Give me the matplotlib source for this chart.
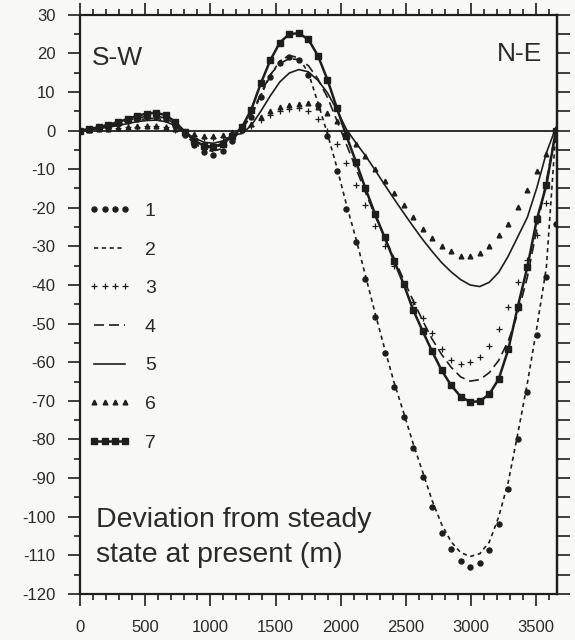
import numpy as np
import matplotlib
matplotlib.use("Agg")
import matplotlib.pyplot as plt
from matplotlib.ticker import MultipleLocator

plt.rcParams['font.family'] = ['Liberation Sans', 'DejaVu Sans']
plt.rcParams['axes.unicode_minus'] = False

# distance along profile (m), 51 grid nodes
dist = np.linspace(0, 3650, 51)

# deviation from steady state (m)
s1 = [0, 0.3, 0.7, 1.2, 1.8, 2.4, 3.0, 3.4, 3.5, 2.9, 1.3, -1.2, -3.8, -5.6, -6.2, -5.2, -2.8,
      0.2, 3.5, 8.6, 13.9, 17.6, 19.0, 18.4, 14.5, 6.5, -1.5, -10.5, -20.2, -28.8, -38.5,
      -48.3, -57.6, -66.5, -74.2, -82.3, -89.8, -97.5, -104.1, -108.4, -111.5, -112.9,
      -111.9, -108.7, -101.8, -92.8, -80.0, -67.7, -53.0, -37.8, -24.3]
s2 = [0, 0.3, 0.7, 1.1, 1.6, 2.2, 2.7, 3.1, 3.2, 2.7, 1.2, -1.0, -3.3, -4.9, -5.4, -4.6, -2.5,
      0.3, 3.8, 9.0, 14.3, 18.0, 19.5, 18.8, 15.0, 7.2, -0.8, -9.6, -19.2, -28.0, -37.6,
      -47.2, -56.4, -65.2, -73.0, -81.0, -88.4, -95.8, -102.0, -106.5, -109.3, -110.3,
      -109.6, -106.6, -100.0, -91.0, -78.5, -65.5, -51.0, -35.5, 0]
s3 = [0, 0.1, 0.3, 0.5, 0.7, 0.9, 1.0, 1.1, 1.1, 0.8, 0.2, -0.6, -1.4, -1.9, -2.0, -1.6, -0.8,
      0.2, 1.3, 2.8, 4.0, 5.0, 5.6, 5.8, 5.0, 3.0, -0.2, -3.6, -8.3, -14.2, -19.2,
      -24.7, -29.8, -35.0, -39.8, -44.3, -48.5, -52.5, -56.5, -59.3, -60.4, -60.0,
      -58.6, -55.8, -51.5, -45.8, -39.2, -33.5, -27.0, -18.8, 0]
s4 = [0, 0.3, 0.8, 1.3, 1.9, 2.6, 3.2, 3.7, 3.8, 3.2, 1.7, -0.6, -2.9, -4.2, -4.5, -3.7, -1.8,
      0.5, 4.2, 9.5, 14.5, 17.4, 18.6, 18.4, 16.8, 13.4, 8.6, 2.6, -3.6, -9.8, -16.0,
      -22.0, -27.6, -33.0, -38.6, -44.0, -49.2, -54.0, -58.0, -61.3, -63.8, -64.9,
      -64.5, -62.7, -59.5, -54.5, -47.4, -38.0, -25.5, -13.0, 0]
s5 = [0, 0.2, 0.5, 0.9, 1.3, 1.8, 2.3, 2.6, 2.7, 2.3, 1.3, -0.3, -1.9, -3.0, -3.3, -2.7, -1.2,
      -0.8, 1.3, 5.0, 9.0, 12.6, 14.9, 15.8, 15.2, 13.0, 9.8, 5.3, 0.3, -3.2, -6.5,
      -10.2, -14.0, -17.7, -21.3, -24.8, -28.2, -31.3, -34.2, -36.6, -38.6, -40.0,
      -40.4, -39.3, -36.7, -32.5, -27.5, -22.5, -14.8, -5.8, 0.8]
s6 = [0, 0.1, 0.3, 0.5, 0.7, 0.9, 1.1, 1.2, 1.2, 1.0, 0.5, -0.2, -0.9, -1.3, -1.4, -1.1, -0.5,
      0.3, 1.6, 3.6, 5.1, 6.1, 6.6, 7.0, 7.1, 6.0, 4.6, 2.5, -0.6, -3.6, -6.6,
      -9.9, -13.1, -16.2, -19.3, -22.5, -25.6, -27.8, -29.8, -31.3, -32.4, -32.5,
      -31.6, -29.9, -27.1, -24.1, -19.9, -15.5, -10.6, -6.1, -1.0]
s7 = [0, 0.4, 0.9, 1.5, 2.2, 3.0, 3.8, 4.4, 4.6, 4.0, 2.3, -0.3, -2.6, -3.9, -4.2, -3.4, -1.5,
      0.8, 5.4, 12.2, 18.2, 22.8, 25.0, 25.2, 23.6, 19.4, 13.2, 5.8, -1.4, -8.1, -15.0,
      -21.6, -27.6, -33.7, -39.7, -46.4, -51.9, -57.2, -62.1, -66.0, -68.9, -70.3,
      -70.1, -68.3, -64.3, -56.7, -45.6, -35.4, -23.0, -14.2, 0]
labels = ['1', '2', '3', '4', '5', '6', '7']

ink = '#1e1e1e'
txt = '#2a2a2a'
bg = '#f8f8f6'

fig = plt.figure(figsize=(5.75, 6.4), dpi=100, facecolor=bg)
ax = fig.add_axes([0.139, 0.072, 0.83, 0.905], facecolor=bg)

ax.axhline(0, color=ink, lw=1.3, zorder=1)

ax.plot(dist, s1, ls='none', marker='o', ms=3.6, color=ink, label=labels[0])
ax.plot(dist, s2, ls=(0, (2.5, 2.2)), lw=1.2, color=ink, label=labels[1])
ax.plot(dist, s3, ls='none', marker='+', ms=5, mew=0.9, color=ink, label=labels[2])
ax.plot(dist, s4, ls=(0, (6, 3)), lw=1.2, color=ink, label=labels[3])
ax.plot(dist, s5, ls='-', lw=1.2, color=ink, label=labels[4])
ax.plot(dist, s6, ls='none', marker='^', ms=3.4, color=ink, label=labels[5])
ax.plot(dist, s7, ls='-', lw=1.8, marker='s', ms=4.6, color=ink, label=labels[6])

ax.set_xlim(0, 3660)
ax.set_ylim(-120, 30)

ax.xaxis.set_major_locator(MultipleLocator(500))
ax.xaxis.set_minor_locator(MultipleLocator(100))
ax.yaxis.set_major_locator(MultipleLocator(10))
ax.yaxis.set_minor_locator(MultipleLocator(5))

for sp in ax.spines.values():
    sp.set_linewidth(1.6)
    sp.set_color(ink)

ax.tick_params(which='both', direction='out', color=ink, width=1.2,
               labelsize=12, labelcolor=txt, top=True, right=False)
ax.tick_params(which='major', length=8.5)
ax.tick_params(which='minor', length=4.5)
ax.tick_params(axis='y', pad=9)
ax.tick_params(axis='x', pad=10)

# right side: uniform ticks every 5 m, no labels
rax = ax.secondary_yaxis('right')
rax.yaxis.set_major_locator(MultipleLocator(5))
rax.tick_params(direction='out', length=9, width=1.2, color=ink, labelright=False)
rax.spines['right'].set_linewidth(1.6)

ax.text(0.025, 0.914, 'S-W', transform=ax.transAxes, fontsize=19, color=txt,
        ha='left', va='baseline')
ax.text(0.968, 0.92, 'N-E', transform=ax.transAxes, fontsize=19, color=txt,
        ha='right', va='baseline')
ax.text(0.034, 0.098, 'Deviation from steady\nstate at present (m)', transform=ax.transAxes,
        fontsize=20.5, color=txt, ha='left', va='center', linespacing=1.45)

ax.legend(loc='upper left', bbox_to_anchor=(0.018, 0.676), frameon=False, fontsize=14,
          handlelength=2.2, handletextpad=0.7, labelspacing=1.08, numpoints=4,
          borderpad=0, borderaxespad=0, labelcolor=txt)

fig.savefig('out.png', dpi=100, facecolor=bg)
